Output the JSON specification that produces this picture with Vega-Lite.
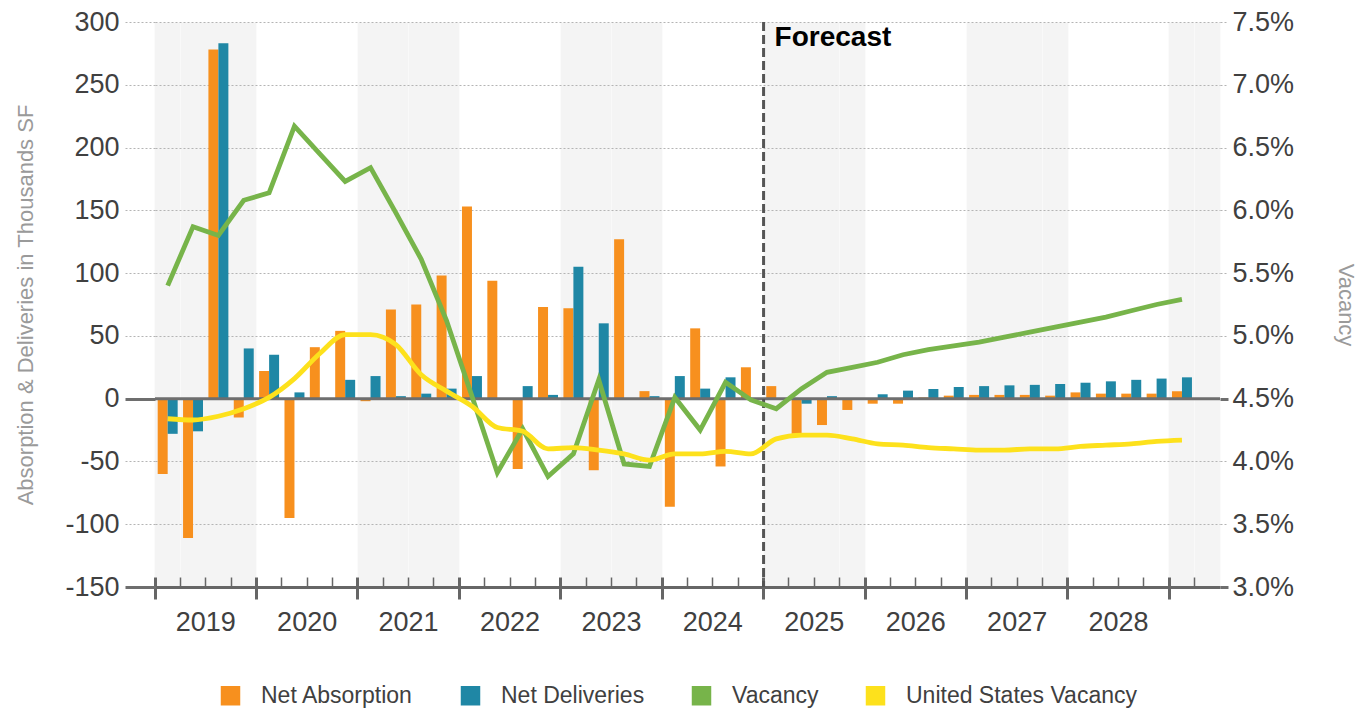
{
  "$schema": "https://vega.github.io/schema/vega-lite/v6.json",
  "width": 1065,
  "height": 565,
  "autosize": {"type": "none"},
  "padding": {"left": 155, "top": 22, "right": 150, "bottom": 124},
  "background": "white",
  "config": {
    "font": "Liberation Sans",
    "view": {"stroke": null},
    "axis": {"labelFont": "Liberation Sans", "titleFont": "Liberation Sans"},
    "legend": {"labelFont": "Liberation Sans"}
  },
  "data": {"values": [
    {"q": "2019 Q1", "Net Absorption": -60, "Net Deliveries": -28, "Vacancy": 5.40, "United States Vacancy": 4.34},
    {"q": "2019 Q2", "Net Absorption": -111, "Net Deliveries": -26, "Vacancy": 5.87, "United States Vacancy": 4.33},
    {"q": "2019 Q3", "Net Absorption": 278, "Net Deliveries": 283, "Vacancy": 5.80, "United States Vacancy": 4.36},
    {"q": "2019 Q4", "Net Absorption": -15, "Net Deliveries": 40, "Vacancy": 6.08, "United States Vacancy": 4.42},
    {"q": "2020 Q1", "Net Absorption": 22, "Net Deliveries": 35, "Vacancy": 6.14, "United States Vacancy": 4.51},
    {"q": "2020 Q2", "Net Absorption": -95, "Net Deliveries": 5, "Vacancy": 6.67, "United States Vacancy": 4.66},
    {"q": "2020 Q3", "Net Absorption": 41, "Net Deliveries": 0, "Vacancy": 6.45, "United States Vacancy": 4.86},
    {"q": "2020 Q4", "Net Absorption": 54, "Net Deliveries": 15, "Vacancy": 6.23, "United States Vacancy": 5.01},
    {"q": "2021 Q1", "Net Absorption": -2, "Net Deliveries": 18, "Vacancy": 6.34, "United States Vacancy": 5.01},
    {"q": "2021 Q2", "Net Absorption": 71, "Net Deliveries": 2, "Vacancy": 5.98, "United States Vacancy": 4.93},
    {"q": "2021 Q3", "Net Absorption": 75, "Net Deliveries": 4, "Vacancy": 5.61, "United States Vacancy": 4.69},
    {"q": "2021 Q4", "Net Absorption": 98, "Net Deliveries": 8, "Vacancy": 5.12, "United States Vacancy": 4.56},
    {"q": "2022 Q1", "Net Absorption": 153, "Net Deliveries": 18, "Vacancy": 4.52, "United States Vacancy": 4.44},
    {"q": "2022 Q2", "Net Absorption": 94, "Net Deliveries": 0, "Vacancy": 3.91, "United States Vacancy": 4.27},
    {"q": "2022 Q3", "Net Absorption": -56, "Net Deliveries": 10, "Vacancy": 4.26, "United States Vacancy": 4.24},
    {"q": "2022 Q4", "Net Absorption": 73, "Net Deliveries": 3, "Vacancy": 3.88, "United States Vacancy": 4.10},
    {"q": "2023 Q1", "Net Absorption": 72, "Net Deliveries": 105, "Vacancy": 4.06, "United States Vacancy": 4.11},
    {"q": "2023 Q2", "Net Absorption": -57, "Net Deliveries": 60, "Vacancy": 4.65, "United States Vacancy": 4.09},
    {"q": "2023 Q3", "Net Absorption": 127, "Net Deliveries": 0, "Vacancy": 3.98, "United States Vacancy": 4.06},
    {"q": "2023 Q4", "Net Absorption": 6, "Net Deliveries": 2, "Vacancy": 3.96, "United States Vacancy": 4.01},
    {"q": "2024 Q1", "Net Absorption": -86, "Net Deliveries": 18, "Vacancy": 4.51, "United States Vacancy": 4.06},
    {"q": "2024 Q2", "Net Absorption": 56, "Net Deliveries": 8, "Vacancy": 4.25, "United States Vacancy": 4.06},
    {"q": "2024 Q3", "Net Absorption": -54, "Net Deliveries": 17, "Vacancy": 4.63, "United States Vacancy": 4.08},
    {"q": "2024 Q4", "Net Absorption": 25, "Net Deliveries": 0, "Vacancy": 4.49, "United States Vacancy": 4.06},
    {"q": "2025 Q1", "Net Absorption": 10, "Net Deliveries": 0, "Vacancy": 4.42, "United States Vacancy": 4.18},
    {"q": "2025 Q2", "Net Absorption": -28, "Net Deliveries": -4, "Vacancy": 4.58, "United States Vacancy": 4.21},
    {"q": "2025 Q3", "Net Absorption": -21, "Net Deliveries": 2, "Vacancy": 4.71, "United States Vacancy": 4.21},
    {"q": "2025 Q4", "Net Absorption": -9, "Net Deliveries": 0, "Vacancy": 4.75, "United States Vacancy": 4.18},
    {"q": "2026 Q1", "Net Absorption": -4, "Net Deliveries": 3.5, "Vacancy": 4.79, "United States Vacancy": 4.14},
    {"q": "2026 Q2", "Net Absorption": -4, "Net Deliveries": 6.4, "Vacancy": 4.85, "United States Vacancy": 4.13},
    {"q": "2026 Q3", "Net Absorption": 1, "Net Deliveries": 7.7, "Vacancy": 4.89, "United States Vacancy": 4.11},
    {"q": "2026 Q4", "Net Absorption": 2.4, "Net Deliveries": 9.3, "Vacancy": 4.92, "United States Vacancy": 4.10},
    {"q": "2027 Q1", "Net Absorption": 3, "Net Deliveries": 10, "Vacancy": 4.95, "United States Vacancy": 4.09},
    {"q": "2027 Q2", "Net Absorption": 3, "Net Deliveries": 10.6, "Vacancy": 4.99, "United States Vacancy": 4.09},
    {"q": "2027 Q3", "Net Absorption": 3, "Net Deliveries": 11, "Vacancy": 5.03, "United States Vacancy": 4.10},
    {"q": "2027 Q4", "Net Absorption": 2.4, "Net Deliveries": 11.7, "Vacancy": 5.07, "United States Vacancy": 4.10},
    {"q": "2028 Q1", "Net Absorption": 5, "Net Deliveries": 12.7, "Vacancy": 5.11, "United States Vacancy": 4.12},
    {"q": "2028 Q2", "Net Absorption": 4, "Net Deliveries": 13.8, "Vacancy": 5.15, "United States Vacancy": 4.13},
    {"q": "2028 Q3", "Net Absorption": 4, "Net Deliveries": 15, "Vacancy": 5.20, "United States Vacancy": 4.14},
    {"q": "2028 Q4", "Net Absorption": 4, "Net Deliveries": 16, "Vacancy": 5.25, "United States Vacancy": 4.16},
    {"q": "2029 Q1", "Net Absorption": 6, "Net Deliveries": 17, "Vacancy": 5.29, "United States Vacancy": 4.17}
  ]},
  "layer": [
    {
      "layer": [
        {
          "transform": [{"fold": ["Net Absorption", "Net Deliveries"], "as": ["series", "value"]}],
          "mark": {"type": "bar"},
          "encoding": {
            "x": {
              "field": "q", "type": "nominal",
              "scale": {"domain": ["2019 Q1","2019 Q2","2019 Q3","2019 Q4","2020 Q1","2020 Q2","2020 Q3","2020 Q4","2021 Q1","2021 Q2","2021 Q3","2021 Q4","2022 Q1","2022 Q2","2022 Q3","2022 Q4","2023 Q1","2023 Q2","2023 Q3","2023 Q4","2024 Q1","2024 Q2","2024 Q3","2024 Q4","2025 Q1","2025 Q2","2025 Q3","2025 Q4","2026 Q1","2026 Q2","2026 Q3","2026 Q4","2027 Q1","2027 Q2","2027 Q3","2027 Q4","2028 Q1","2028 Q2","2028 Q3","2028 Q4","2029 Q1","2029 Q2"], "paddingInner": 0, "paddingOuter": 0},
              "axis": {
                "orient": "bottom", "bandPosition": 0.5, "title": null,
                "domain": false, "ticks": false, "labels": false,
                "grid": true, "gridColor": "#F4F4F4", "gridWidth": 25.8,
                "gridOpacity": {"condition": {"test": "toNumber(substring(datum.value,0,4)) % 2 == 1", "value": 1}, "value": 0}
              }
            },
            "xOffset": {"field": "series", "type": "nominal", "scale": {"domain": ["Net Absorption", "Net Deliveries"], "paddingInner": 0, "paddingOuter": 0.27}},
            "y": {
              "field": "value", "type": "quantitative",
              "scale": {"domain": [-150, 300], "nice": false, "zero": false},
              "axis": {
                "orient": "left",
                "title": "Absorption & Deliveries in Thousands SF",
                "titleFontSize": 22, "titleFontWeight": "normal", "titleColor": "#9a9a9a", "titlePadding": 27,
                "values": [-150, -100, -50, 0, 50, 100, 150, 200, 250, 300],
                "labelExpr": "datum.value + ''",
                "labelFontSize": 27, "labelColor": "#404040", "labelPadding": 6,
                "tickSize": 30,
                "tickColor": {"condition": {"test": "datum.value == 0 || datum.value == -150", "value": "#6e6e6e"}, "value": "#b4b4b4"},
                "tickWidth": {"condition": {"test": "datum.value == 0 || datum.value == -150", "value": 3}, "value": 1},
                "tickDash": {"condition": {"test": "datum.value == 0 || datum.value == -150", "value": []}, "value": [2, 2]},
                "domain": false,
                "grid": true, "gridColor": "#b4b4b4", "gridDash": [2, 2], "gridWidth": 1,
                "gridOpacity": {"condition": {"test": "datum.value == 0 || datum.value == -150", "value": 0}, "value": 1}
              }
            },
            "color": {
              "field": "series", "type": "nominal",
              "scale": {"domain": ["Net Absorption", "Net Deliveries", "Vacancy", "United States Vacancy"], "range": ["#F7901E", "#1F87A5", "#77B44A", "#FDE11C"]},
              "legend": {
                "orient": "none", "legendX": 64, "legendY": 662, "direction": "horizontal", "title": null,
                "symbolType": "square", "symbolSize": 380, "symbolStrokeWidth": 0,
                "labelFontSize": 23, "labelColor": "#404040", "labelOffset": 19, "columnPadding": 45, "labelLimit": 400
              }
            }
          }
        },
        {
          "data": {"values": [{}]},
          "mark": {"type": "rule", "color": "#6e6e6e", "strokeWidth": 3},
          "encoding": {"y": {"datum": 0}}
        },
        {
          "data": {"values": [{}]},
          "mark": {"type": "rule", "color": "#555555", "strokeWidth": 3, "strokeDash": [9, 4]},
          "encoding": {"x": {"datum": "2025 Q1", "type": "nominal", "bandPosition": 0}}
        },
        {
          "data": {"values": [{}]},
          "mark": {"type": "text", "text": "Forecast", "font": "Liberation Sans", "fontWeight": "bold", "fontSize": 28, "color": "#000000", "align": "left", "baseline": "top", "dx": 11, "dy": 2},
          "encoding": {"x": {"datum": "2025 Q1", "type": "nominal", "bandPosition": 0}, "y": {"datum": 300}}
        }
      ]
    },
    {
      "mark": {"type": "line", "color": "#77B44A", "strokeWidth": 4.8},
      "encoding": {
        "x": {
          "field": "q", "type": "nominal",
          "axis": {
            "orient": "bottom", "bandPosition": 0, "title": null, "grid": false,
            "domain": true, "domainColor": "#666666", "domainWidth": 3,
            "ticks": true, "tickSize": -10, "tickColor": "#666666",
            "tickWidth": {"condition": {"test": "indexof(datum.value,'Q1') >= 0", "value": 3}, "value": 1.5},
            "labels": true,
            "labelExpr": "indexof(datum.value,'Q3') >= 0 ? substring(datum.value,0,4) : ''",
            "labelAngle": 0, "labelFontSize": 27, "labelColor": "#404040", "labelPadding": 32, "labelOffset": -12.68,
            "labelOverlap": false, "labelBound": false, "labelFlush": false
          }
        },
        "y": {
          "field": "Vacancy", "type": "quantitative",
          "scale": {"domain": [3, 7.5], "nice": false, "zero": false},
          "axis": {
            "orient": "right", "title": "Vacancy",
            "titleFontSize": 22, "titleFontWeight": "normal", "titleColor": "#9a9a9a", "titlePadding": 40,
            "values": [3, 3.5, 4, 4.5, 5, 5.5, 6, 6.5, 7, 7.5],
            "labelExpr": "format(datum.value, '.1f') + '%'",
            "labelFontSize": 27, "labelColor": "#404040", "labelPadding": 4,
            "tickSize": 8,
            "tickColor": {"condition": {"test": "datum.value == 3 || datum.value == 4.5", "value": "#6e6e6e"}, "value": "#b4b4b4"},
            "tickWidth": {"condition": {"test": "datum.value == 3 || datum.value == 4.5", "value": 3}, "value": 1},
            "tickDash": {"condition": {"test": "datum.value == 3 || datum.value == 4.5", "value": []}, "value": [2, 2]},
            "domain": false, "grid": false
          }
        }
      }
    },
    {
      "mark": {"type": "line", "color": "#FDE11C", "strokeWidth": 4.8, "interpolate": "monotone"},
      "encoding": {
        "x": {
          "field": "q", "type": "nominal",
          "axis": {
            "orient": "bottom", "bandPosition": 0, "title": null, "grid": false,
            "domain": false, "labels": false,
            "ticks": true, "tickSize": 12, "tickWidth": 3, "tickColor": "#666666",
            "values": ["2019 Q1","2020 Q1","2021 Q1","2022 Q1","2023 Q1","2024 Q1","2025 Q1","2026 Q1","2027 Q1","2028 Q1","2029 Q1"]
          }
        },
        "y": {
          "field": "United States Vacancy", "type": "quantitative",
          "scale": {"domain": [3, 7.5], "nice": false, "zero": false},
          "axis": null
        }
      }
    }
  ],
  "resolve": {"scale": {"y": "independent"}, "axis": {"x": "independent", "y": "independent"}}
}
